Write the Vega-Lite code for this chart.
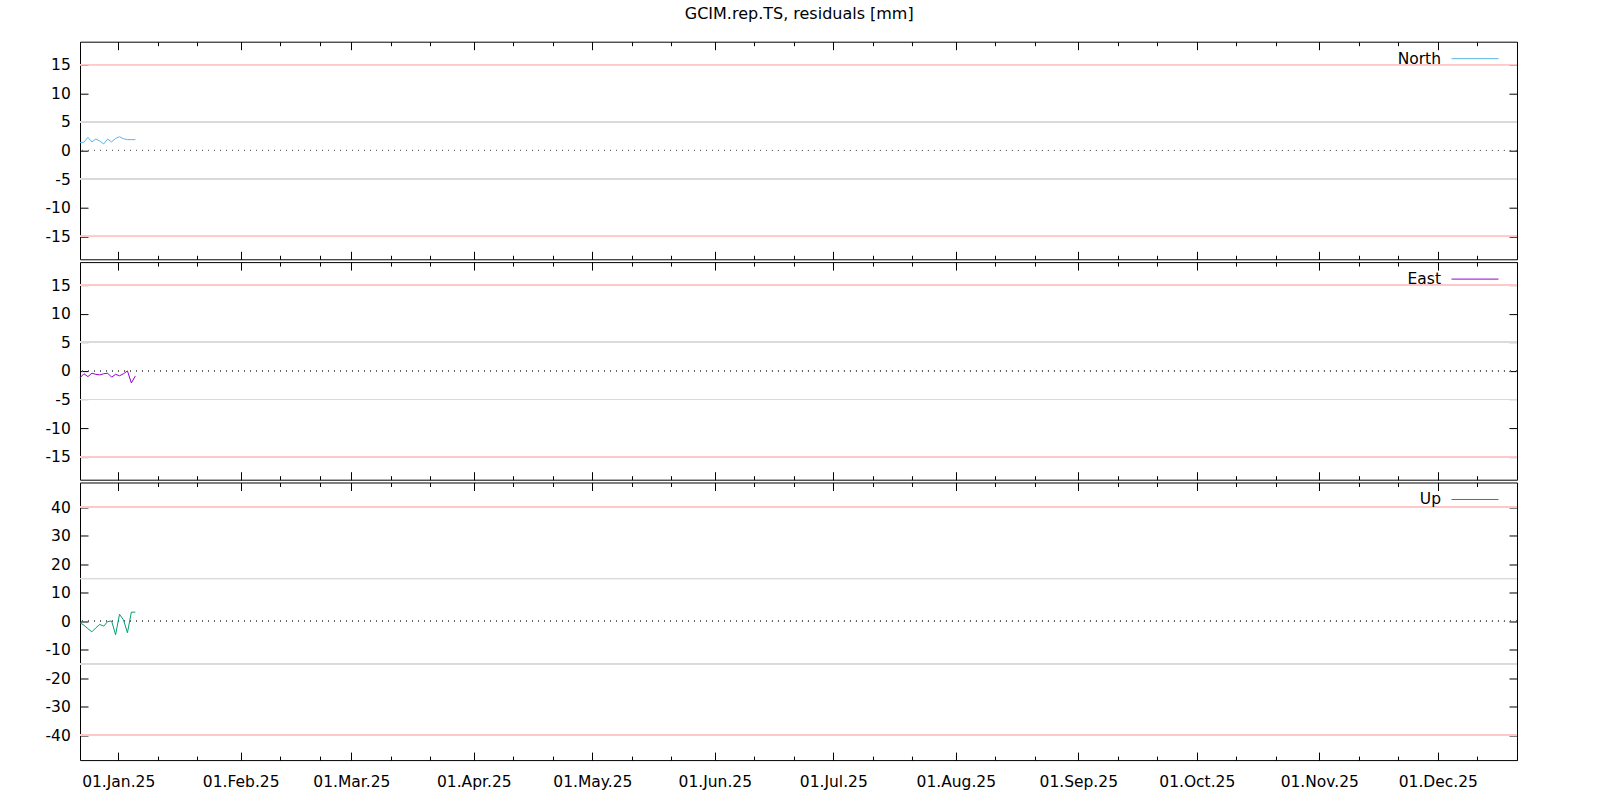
{
  "$schema": "https://vega.github.io/schema/vega-lite/v6.json",
  "background": "white",
  "padding": {"left": 44, "top": 5.7, "right": 5, "bottom": 5},
  "title": {"text": "GCIM.rep.TS, residuals [mm]", "fontSize": 16, "fontWeight": "normal", "font": "DejaVu Sans", "color": "black", "anchor": "middle", "offset": 12, "dx": 18},
  "data": {"values": [
    {"t": "2024-12-22T08:00:00Z", "c": "North", "v": 1.4},
    {"t": "2024-12-23T08:00:00Z", "c": "North", "v": 1.45},
    {"t": "2024-12-24T08:00:00Z", "c": "North", "v": 2.3},
    {"t": "2024-12-25T08:00:00Z", "c": "North", "v": 1.5},
    {"t": "2024-12-26T08:00:00Z", "c": "North", "v": 2.0},
    {"t": "2024-12-27T08:00:00Z", "c": "North", "v": 1.65},
    {"t": "2024-12-28T08:00:00Z", "c": "North", "v": 1.15},
    {"t": "2024-12-29T08:00:00Z", "c": "North", "v": 2.0},
    {"t": "2024-12-30T08:00:00Z", "c": "North", "v": 1.5},
    {"t": "2024-12-31T08:00:00Z", "c": "North", "v": 2.1},
    {"t": "2025-01-01T08:00:00Z", "c": "North", "v": 2.4},
    {"t": "2025-01-02T08:00:00Z", "c": "North", "v": 2.05},
    {"t": "2025-01-03T08:00:00Z", "c": "North", "v": 1.9},
    {"t": "2025-01-04T08:00:00Z", "c": "North", "v": 1.9},
    {"t": "2025-01-05T08:00:00Z", "c": "North", "v": 1.9},
    {"t": "2024-12-22T08:00:00Z", "c": "East", "v": -1.2},
    {"t": "2024-12-23T08:00:00Z", "c": "East", "v": -0.5},
    {"t": "2024-12-24T08:00:00Z", "c": "East", "v": -1.0},
    {"t": "2024-12-25T08:00:00Z", "c": "East", "v": -0.4},
    {"t": "2024-12-26T08:00:00Z", "c": "East", "v": -0.6},
    {"t": "2024-12-27T08:00:00Z", "c": "East", "v": -0.7},
    {"t": "2024-12-28T08:00:00Z", "c": "East", "v": -0.5},
    {"t": "2024-12-29T08:00:00Z", "c": "East", "v": -0.4},
    {"t": "2024-12-30T08:00:00Z", "c": "East", "v": -1.1},
    {"t": "2024-12-31T08:00:00Z", "c": "East", "v": -0.6},
    {"t": "2025-01-01T08:00:00Z", "c": "East", "v": -0.85},
    {"t": "2025-01-02T08:00:00Z", "c": "East", "v": -0.5},
    {"t": "2025-01-03T08:00:00Z", "c": "East", "v": 0.0},
    {"t": "2025-01-04T08:00:00Z", "c": "East", "v": -2.1},
    {"t": "2025-01-05T08:00:00Z", "c": "East", "v": -0.9},
    {"t": "2024-12-22T08:00:00Z", "c": "Up", "v": -0.5},
    {"t": "2024-12-23T08:00:00Z", "c": "Up", "v": -1.4},
    {"t": "2024-12-24T08:00:00Z", "c": "Up", "v": -2.6},
    {"t": "2024-12-25T08:00:00Z", "c": "Up", "v": -3.7},
    {"t": "2024-12-26T08:00:00Z", "c": "Up", "v": -2.3},
    {"t": "2024-12-27T08:00:00Z", "c": "Up", "v": -1.1},
    {"t": "2024-12-28T08:00:00Z", "c": "Up", "v": -1.7},
    {"t": "2024-12-29T08:00:00Z", "c": "Up", "v": -0.1},
    {"t": "2024-12-30T08:00:00Z", "c": "Up", "v": 0.1},
    {"t": "2024-12-31T08:00:00Z", "c": "Up", "v": -4.7},
    {"t": "2025-01-01T08:00:00Z", "c": "Up", "v": 2.45},
    {"t": "2025-01-02T08:00:00Z", "c": "Up", "v": 0.5},
    {"t": "2025-01-03T08:00:00Z", "c": "Up", "v": -4.0},
    {"t": "2025-01-04T08:00:00Z", "c": "Up", "v": 3.2},
    {"t": "2025-01-05T08:00:00Z", "c": "Up", "v": 3.2}
  ]},
  "spacing": 2.4,
  "bounds": "flush",
  "resolve": {"scale": {"color": "independent"}, "legend": {"color": "independent"}},
  "vconcat": [
    {
      "width": 1437, "height": 217.6,
      "transform": [{"filter": "datum.c === 'North'"}],
      "resolve": {"scale": {"x": "independent", "y": "independent"}},
      "layer": [
        {"layer": [
          {"mark": {"type": "rule", "color": "#ffc8c8", "strokeWidth": 1}, "encoding": {"y": {"datum": 15, "axis": null}}},
          {"mark": {"type": "rule", "color": "#ffc8c8", "strokeWidth": 1}, "encoding": {"y": {"datum": -15, "axis": null}}},
          {"mark": {"type": "rule", "color": "#dadada", "strokeWidth": 1}, "encoding": {"y": {"datum": 5, "axis": null}}},
          {"mark": {"type": "rule", "color": "#dadada", "strokeWidth": 1}, "encoding": {"y": {"datum": -5, "axis": null}}},
          {"mark": {"type": "rule", "color": "#666666", "strokeWidth": 1, "strokeDash": [1, 5]}, "encoding": {"y": {"datum": 0, "axis": null}}},
          {"mark": {"type": "line", "strokeWidth": 1},
           "encoding": {
             "x": {"field": "t", "type": "temporal", "scale": {"type": "utc", "domain": ["2024-12-22T08:00:00Z", "2025-12-21T01:00:00Z"]}, "axis": null},
             "y": {"field": "v", "type": "quantitative", "scale": {"domain": [-19, 19], "nice": false, "zero": false}, "axis": null},
             "color": {"field": "c", "type": "nominal", "scale": {"domain": ["North"], "range": ["#56b4e9"]},
                       "legend": {"title": null, "orient": "none", "legendX": 1371, "legendY": -7, "padding": 0, "symbolType": "stroke", "symbolSize": 2209, "symbolStrokeWidth": 1, "labelAlign": "right", "labelOffset": -58, "labelFontSize": 15.5, "labelColor": "black"}}
           }}
        ]},
        {"mark": {"type": "line", "opacity": 0},
         "encoding": {
           "x": {"field": "t", "type": "temporal", "scale": {"type": "utc", "domain": ["2024-12-22T08:00:00Z", "2025-12-21T01:00:00Z"]},
                 "axis": {"title": null, "orient": "bottom", "tickCount": {"interval": "month", "step": 1}, "tickSize": -8, "labels": false}},
           "y": {"field": "v", "type": "quantitative", "scale": {"domain": [-19, 19], "nice": false, "zero": false},
                 "axis": {"title": null, "orient": "left", "values": [-15, -10, -5, 0, 5, 10, 15], "tickSize": -8, "labelPadding": 17.7, "labelOverlap": false, "labelSeparation": 0, "labelExpr": "'' + datum.value"}}
         }},
        {"mark": {"type": "line", "opacity": 0},
         "encoding": {
           "x": {"field": "t", "type": "temporal", "scale": {"type": "utc", "domain": ["2024-12-22T08:00:00Z", "2025-12-21T01:00:00Z"]},
                 "axis": {"title": null, "orient": "bottom", "tickCount": {"interval": "day", "step": 10}, "tickSize": -4, "labels": false, "tickOpacity": {"condition": {"test": "utcdate(datum.value) == 31", "value": 0}, "value": 1}}},
           "y": {"field": "v", "type": "quantitative", "scale": {"domain": [-19, 19], "nice": false, "zero": false},
                 "axis": {"title": null, "orient": "right", "values": [-15, -10, -5, 0, 5, 10, 15], "tickSize": -8, "labels": false}}
         }},
        {"mark": {"type": "line", "opacity": 0},
         "encoding": {
           "x": {"field": "t", "type": "temporal", "scale": {"type": "utc", "domain": ["2024-12-22T08:00:00Z", "2025-12-21T01:00:00Z"]},
                 "axis": {"title": null, "orient": "top", "tickCount": {"interval": "month", "step": 1}, "tickSize": -8, "labels": false}},
           "y": {"field": "v", "type": "quantitative", "scale": {"domain": [-19, 19], "nice": false, "zero": false}, "axis": null}
         }},
        {"mark": {"type": "line", "opacity": 0},
         "encoding": {
           "x": {"field": "t", "type": "temporal", "scale": {"type": "utc", "domain": ["2024-12-22T08:00:00Z", "2025-12-21T01:00:00Z"]},
                 "axis": {"title": null, "orient": "top", "tickCount": {"interval": "day", "step": 10}, "tickSize": -4, "labels": false, "tickOpacity": {"condition": {"test": "utcdate(datum.value) == 31", "value": 0}, "value": 1}}},
           "y": {"field": "v", "type": "quantitative", "scale": {"domain": [-19, 19], "nice": false, "zero": false}, "axis": null}
         }}
      ]
    },
    {
      "width": 1437, "height": 217.6,
      "transform": [{"filter": "datum.c === 'East'"}],
      "resolve": {"scale": {"x": "independent", "y": "independent"}},
      "layer": [
        {"layer": [
          {"mark": {"type": "rule", "color": "#ffc8c8", "strokeWidth": 1}, "encoding": {"y": {"datum": 15, "axis": null}}},
          {"mark": {"type": "rule", "color": "#ffc8c8", "strokeWidth": 1}, "encoding": {"y": {"datum": -15, "axis": null}}},
          {"mark": {"type": "rule", "color": "#dadada", "strokeWidth": 1}, "encoding": {"y": {"datum": 5, "axis": null}}},
          {"mark": {"type": "rule", "color": "#dadada", "strokeWidth": 1}, "encoding": {"y": {"datum": -5, "axis": null}}},
          {"mark": {"type": "rule", "color": "#666666", "strokeWidth": 1, "strokeDash": [1, 5]}, "encoding": {"y": {"datum": 0, "axis": null}}},
          {"mark": {"type": "line", "strokeWidth": 1},
           "encoding": {
             "x": {"field": "t", "type": "temporal", "scale": {"type": "utc", "domain": ["2024-12-22T08:00:00Z", "2025-12-21T01:00:00Z"]}, "axis": null},
             "y": {"field": "v", "type": "quantitative", "scale": {"domain": [-19, 19], "nice": false, "zero": false}, "axis": null},
             "color": {"field": "c", "type": "nominal", "scale": {"domain": ["East"], "range": ["#9400d3"]},
                       "legend": {"title": null, "orient": "none", "legendX": 1371, "legendY": -7, "padding": 0, "symbolType": "stroke", "symbolSize": 2209, "symbolStrokeWidth": 1, "labelAlign": "right", "labelOffset": -58, "labelFontSize": 15.5, "labelColor": "black"}}
           }}
        ]},
        {"mark": {"type": "line", "opacity": 0},
         "encoding": {
           "x": {"field": "t", "type": "temporal", "scale": {"type": "utc", "domain": ["2024-12-22T08:00:00Z", "2025-12-21T01:00:00Z"]},
                 "axis": {"title": null, "orient": "bottom", "tickCount": {"interval": "month", "step": 1}, "tickSize": -8, "labels": false}},
           "y": {"field": "v", "type": "quantitative", "scale": {"domain": [-19, 19], "nice": false, "zero": false},
                 "axis": {"title": null, "orient": "left", "values": [-15, -10, -5, 0, 5, 10, 15], "tickSize": -8, "labelPadding": 17.7, "labelOverlap": false, "labelSeparation": 0, "labelExpr": "'' + datum.value"}}
         }},
        {"mark": {"type": "line", "opacity": 0},
         "encoding": {
           "x": {"field": "t", "type": "temporal", "scale": {"type": "utc", "domain": ["2024-12-22T08:00:00Z", "2025-12-21T01:00:00Z"]},
                 "axis": {"title": null, "orient": "bottom", "tickCount": {"interval": "day", "step": 10}, "tickSize": -4, "labels": false, "tickOpacity": {"condition": {"test": "utcdate(datum.value) == 31", "value": 0}, "value": 1}}},
           "y": {"field": "v", "type": "quantitative", "scale": {"domain": [-19, 19], "nice": false, "zero": false},
                 "axis": {"title": null, "orient": "right", "values": [-15, -10, -5, 0, 5, 10, 15], "tickSize": -8, "labels": false}}
         }},
        {"mark": {"type": "line", "opacity": 0},
         "encoding": {
           "x": {"field": "t", "type": "temporal", "scale": {"type": "utc", "domain": ["2024-12-22T08:00:00Z", "2025-12-21T01:00:00Z"]},
                 "axis": {"title": null, "orient": "top", "tickCount": {"interval": "month", "step": 1}, "tickSize": -8, "labels": false}},
           "y": {"field": "v", "type": "quantitative", "scale": {"domain": [-19, 19], "nice": false, "zero": false}, "axis": null}
         }},
        {"mark": {"type": "line", "opacity": 0},
         "encoding": {
           "x": {"field": "t", "type": "temporal", "scale": {"type": "utc", "domain": ["2024-12-22T08:00:00Z", "2025-12-21T01:00:00Z"]},
                 "axis": {"title": null, "orient": "top", "tickCount": {"interval": "day", "step": 10}, "tickSize": -4, "labels": false, "tickOpacity": {"condition": {"test": "utcdate(datum.value) == 31", "value": 0}, "value": 1}}},
           "y": {"field": "v", "type": "quantitative", "scale": {"domain": [-19, 19], "nice": false, "zero": false}, "axis": null}
         }}
      ]
    },
    {
      "width": 1437, "height": 277.6,
      "transform": [{"filter": "datum.c === 'Up'"}],
      "resolve": {"scale": {"x": "independent", "y": "independent"}},
      "layer": [
        {"layer": [
          {"mark": {"type": "rule", "color": "#ffc8c8", "strokeWidth": 1}, "encoding": {"y": {"datum": 40, "axis": null}}},
          {"mark": {"type": "rule", "color": "#ffc8c8", "strokeWidth": 1}, "encoding": {"y": {"datum": -40, "axis": null}}},
          {"mark": {"type": "rule", "color": "#dadada", "strokeWidth": 1}, "encoding": {"y": {"datum": 15, "axis": null}}},
          {"mark": {"type": "rule", "color": "#dadada", "strokeWidth": 1}, "encoding": {"y": {"datum": -15, "axis": null}}},
          {"mark": {"type": "rule", "color": "#666666", "strokeWidth": 1, "strokeDash": [1, 5]}, "encoding": {"y": {"datum": 0, "axis": null}}},
          {"mark": {"type": "line", "strokeWidth": 1},
           "encoding": {
             "x": {"field": "t", "type": "temporal", "scale": {"type": "utc", "domain": ["2024-12-22T08:00:00Z", "2025-12-21T01:00:00Z"]}, "axis": null},
             "y": {"field": "v", "type": "quantitative", "scale": {"domain": [-48.7, 48.7], "nice": false, "zero": false}, "axis": null},
             "color": {"field": "c", "type": "nominal", "scale": {"domain": ["Up"], "range": ["#009e73"]},
                       "legend": {"title": null, "orient": "none", "legendX": 1371, "legendY": -7, "padding": 0, "symbolType": "stroke", "symbolSize": 2209, "symbolStrokeWidth": 1, "labelAlign": "right", "labelOffset": -58, "labelFontSize": 15.5, "labelColor": "black"}}
           }}
        ]},
        {"mark": {"type": "line", "opacity": 0},
         "encoding": {
           "x": {"field": "t", "type": "temporal", "scale": {"type": "utc", "domain": ["2024-12-22T08:00:00Z", "2025-12-21T01:00:00Z"]},
                 "axis": {"title": null, "orient": "bottom", "tickCount": {"interval": "month", "step": 1}, "tickSize": -8, "labels": true, "format": "%d.%b.%y", "labelPadding": 22}},
           "y": {"field": "v", "type": "quantitative", "scale": {"domain": [-48.7, 48.7], "nice": false, "zero": false},
                 "axis": {"title": null, "orient": "left", "values": [-40, -30, -20, -10, 0, 10, 20, 30, 40], "tickSize": -8, "labelPadding": 17.7, "labelOverlap": false, "labelSeparation": 0, "labelExpr": "'' + datum.value"}}
         }},
        {"mark": {"type": "line", "opacity": 0},
         "encoding": {
           "x": {"field": "t", "type": "temporal", "scale": {"type": "utc", "domain": ["2024-12-22T08:00:00Z", "2025-12-21T01:00:00Z"]},
                 "axis": {"title": null, "orient": "bottom", "tickCount": {"interval": "day", "step": 10}, "tickSize": -4, "labels": false, "tickOpacity": {"condition": {"test": "utcdate(datum.value) == 31", "value": 0}, "value": 1}}},
           "y": {"field": "v", "type": "quantitative", "scale": {"domain": [-48.7, 48.7], "nice": false, "zero": false},
                 "axis": {"title": null, "orient": "right", "values": [-40, -30, -20, -10, 0, 10, 20, 30, 40], "tickSize": -8, "labels": false}}
         }},
        {"mark": {"type": "line", "opacity": 0},
         "encoding": {
           "x": {"field": "t", "type": "temporal", "scale": {"type": "utc", "domain": ["2024-12-22T08:00:00Z", "2025-12-21T01:00:00Z"]},
                 "axis": {"title": null, "orient": "top", "tickCount": {"interval": "month", "step": 1}, "tickSize": -8, "labels": false}},
           "y": {"field": "v", "type": "quantitative", "scale": {"domain": [-48.7, 48.7], "nice": false, "zero": false}, "axis": null}
         }},
        {"mark": {"type": "line", "opacity": 0},
         "encoding": {
           "x": {"field": "t", "type": "temporal", "scale": {"type": "utc", "domain": ["2024-12-22T08:00:00Z", "2025-12-21T01:00:00Z"]},
                 "axis": {"title": null, "orient": "top", "tickCount": {"interval": "day", "step": 10}, "tickSize": -4, "labels": false, "tickOpacity": {"condition": {"test": "utcdate(datum.value) == 31", "value": 0}, "value": 1}}},
           "y": {"field": "v", "type": "quantitative", "scale": {"domain": [-48.7, 48.7], "nice": false, "zero": false}, "axis": null}
         }}
      ]
    }
  ],
  "config": {
    "font": "DejaVu Sans",
    "view": {"stroke": "black", "strokeWidth": 1},
    "axis": {"domain": false, "grid": false, "tickColor": "black", "tickWidth": 1, "labelColor": "black", "labelFont": "DejaVu Sans", "labelFontSize": 15.5, "labelFlush": false, "labelOverlap": false, "labelBound": false},
    "legend": {"labelFont": "DejaVu Sans"}
  }
}
